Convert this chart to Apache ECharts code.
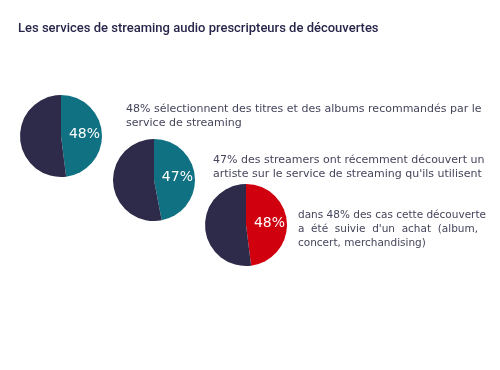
<!DOCTYPE html>
<html><head><meta charset="utf-8">
<script src="https://cdn.jsdelivr.net/npm/echarts@6/dist/echarts.min.js"></script>
<style>html,body{margin:0;padding:0;background:#fff}#c{width:500px;height:370px}</style>
</head><body><div id="c"></div>
<script>
const title = "Les services de streaming audio prescripteurs de découvertes";
const shares = [48, 47, 48];
const pieLabels = ["48%", "47%", "48%"];
const descriptions = [
  ["48% sélectionnent des titres et des albums recommandés par le", "service de streaming"],
  ["47% des streamers ont récemment découvert un", "artiste sur le service de streaming qu'ils utilisent"],
  ["dans 48% des cas cette découverte", "a  été  suivie  d'un  achat  (album,", "concert, merchandising)"]
];
const sliceColors = ["#0f7181", "#0f7181", "#d0000f"];
const restColor = "#2d2a4a";

const centers = [[61, 136], [154, 180], [246, 225]];
const textPos = [[126, 102], [213, 153], [298, 208]];
const textSizes = [11, 11, 10.5];

const chart = echarts.init(document.getElementById('c'));
const series = shares.map((v, i) => ({
  type: 'pie',
  center: centers[i],
  radius: 41,
  startAngle: 90,
  silent: true,
  label: {show: false},
  labelLine: {show: false},
  data: [
    {value: v, name: 'a' + i, itemStyle: {color: sliceColors[i]},
     label: {show: true, position: 'inside', formatter: pieLabels[i], color: '#fff', fontSize: 14, fontFamily: 'DejaVu Sans', fontWeight: 'normal'}},
    {value: 100 - v, name: 'b' + i, itemStyle: {color: restColor}}
  ]
}));
const graphics = descriptions.map((lines, i) => ({
  type: 'text', left: textPos[i][0], top: textPos[i][1],
  style: {text: lines.join('\n'), fill: '#45455c', font: textSizes[i] + 'px "DejaVu Sans"', lineHeight: 14}
}));
chart.setOption({
  animation: false,
  title: {text: title, left: 13, top: 17, textStyle: {fontSize: 13, fontWeight: 500, color: '#27264a', fontFamily: 'Roboto'}},
  series: series,
  graphic: graphics
});
</script></body></html>
